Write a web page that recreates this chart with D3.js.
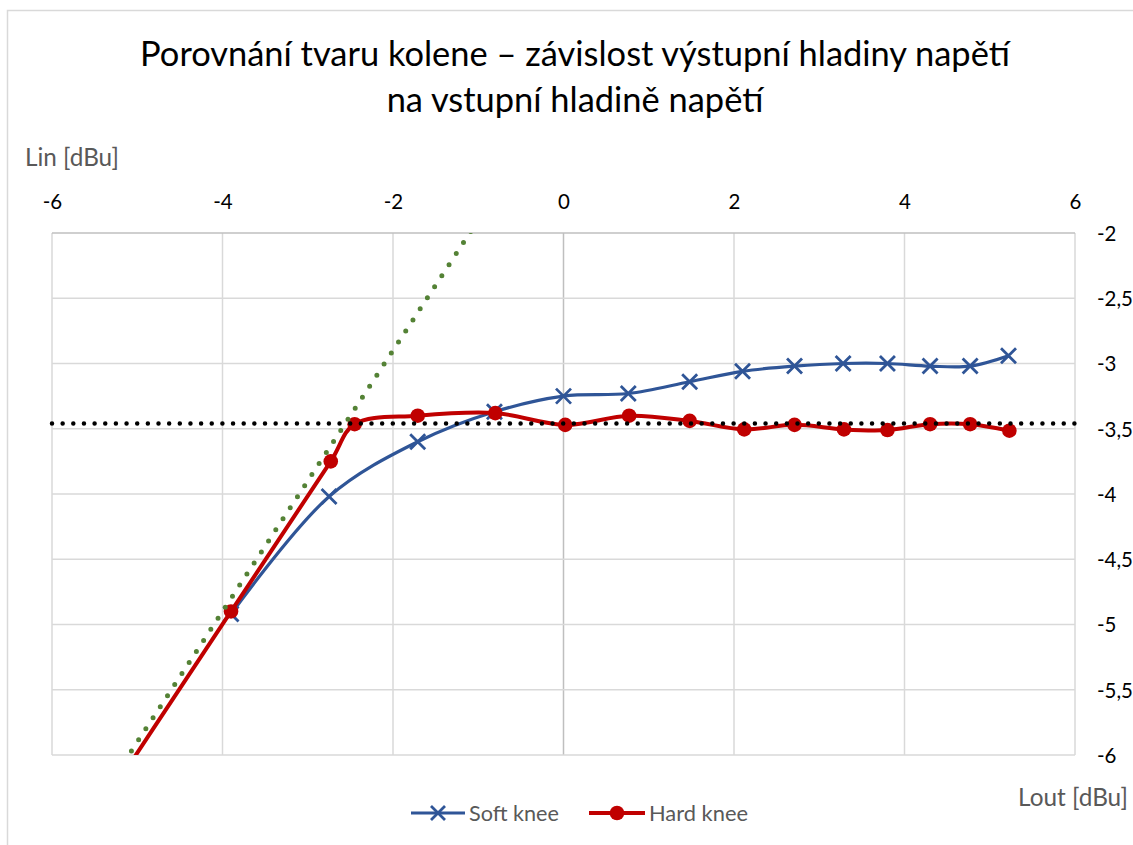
<!DOCTYPE html>
<html><head><meta charset="utf-8">
<script src="https://cdn.jsdelivr.net/npm/d3@7"></script>
<style>
html,body{margin:0;padding:0;background:#fff;overflow:hidden}
text{font-family:Lato,"Open Sans",sans-serif}
</style></head>
<body>
<svg id="chart" width="1133" height="845"></svg>
<script>
// ---- data ----
const titleLines = ["Porovnání tvaru kolene – závislost výstupní hladiny napětí", "na vstupní hladině napětí"];
const xTicks = [-6, -4, -2, 0, 2, 4, 6];
const yTicks = [-2, -2.5, -3, -3.5, -4, -4.5, -5, -5.5, -6];
const yTickLabels = ["-2", "-2,5", "-3", "-3,5", "-4", "-4,5", "-5", "-5,5", "-6"];
const softX = [-3.90, -2.75, -1.71, -0.81, 0.00, 0.76, 1.48, 2.10, 2.71, 3.28, 3.80, 4.30, 4.77, 5.22];
const softY = [-4.92, -4.02, -3.60, -3.37, -3.25, -3.23, -3.14, -3.06, -3.02, -3.00, -3.00, -3.02, -3.02, -2.94];
const hardX = [-6.00, -3.90, -2.73, -2.45, -1.71, -0.80, 0.02, 0.77, 1.48, 2.12, 2.71, 3.29, 3.80, 4.30, 4.77, 5.23];
const hardY = [-6.97, -4.90, -3.75, -3.465, -3.40, -3.38, -3.47, -3.40, -3.44, -3.505, -3.47, -3.505, -3.51, -3.465, -3.465, -3.515];
const slopeX = [-6.0, -1.0];
const slopeY = [-6.9, -1.9];
const thresholdX = [-6, 6];
const thresholdY = [-3.46, -3.46];
const seriesNames = ["Soft knee", "Hard knee"];
const xAxisTitle = "Lin [dBu]";
const yAxisTitle = "Lout [dBu]";

// ---- layout ----
const svg = d3.select("#chart");
const L = 52, R = 1075, T = 233, B = 755;
const x = d3.scaleLinear().domain([-6, 6]).range([L, R]);
const y = d3.scaleLinear().domain([-6, -2]).range([B, T]);

const blue = "#2F5597", red = "#C00000", green = "#548235";

function fitText(sel, targetW, baseSize) {
  sel.attr("font-size", baseSize);
  const w = sel.node().getComputedTextLength();
  const s = baseSize * targetW / w;
  sel.attr("font-size", s);
  return s;
}

// chart border
svg.append("rect").attr("x", 7.5).attr("y", 10.5).attr("width", 1140).attr("height", 860)
  .attr("fill", "#fff").attr("stroke", "#D9D9D9").attr("stroke-width", 1.5);

// title
const t1 = svg.append("text").attr("x", 575).attr("y", 66).attr("text-anchor", "middle").attr("fill", "#000").text(titleLines[0]);
const tSize = fitText(t1, 870, 30);
svg.append("text").attr("x", 575).attr("y", 112).attr("text-anchor", "middle").attr("fill", "#000")
  .attr("font-size", tSize).text(titleLines[1]);

// measure tick font size
const probe = svg.append("text").text("-4,5");
const tickSize = fitText(probe, 36, 20);
probe.remove();

// gridlines
const grid = svg.append("g");
grid.selectAll("line.v").data(xTicks).join("line")
  .attr("x1", d => x(d)).attr("x2", d => x(d)).attr("y1", T).attr("y2", B)
  .attr("stroke", d => d === 0 ? "#BFBFBF" : "#D9D9D9").attr("stroke-width", 1.5);
grid.selectAll("line.h").data(yTicks).join("line")
  .attr("x1", L).attr("x2", R).attr("y1", d => y(d)).attr("y2", d => y(d))
  .attr("stroke", d => d === -2 ? "#BFBFBF" : "#D9D9D9").attr("stroke-width", 1.5);

// axes (labels via d3 axes)
const xAxis = d3.axisTop(x).tickValues(xTicks).tickSize(0).tickPadding(0).tickFormat(d => String(d));
const gx = svg.append("g").attr("transform", `translate(0,${T - 24})`).call(xAxis);
gx.select(".domain").remove();
gx.selectAll("text").attr("font-size", tickSize).attr("fill", "#000").attr("font-family", "Lato").attr("dy", 0);

const yAxis = d3.axisRight(y).tickValues(yTicks).tickSize(0).tickPadding(0).tickFormat((d, i) => yTickLabels[i]);
const gy = svg.append("g").attr("transform", `translate(1097,0)`).call(yAxis);
gy.select(".domain").remove();
gy.selectAll("text").attr("font-size", tickSize).attr("fill", "#000").attr("font-family", "Lato").attr("x", 0).attr("dy", "0.36em");

// axis titles
const at1 = svg.append("text").attr("x", 25).attr("y", 157).attr("dy", "0.36em").attr("fill", "#595959").text(xAxisTitle);
fitText(at1, 94, 20);
const at2 = svg.append("text").attr("x", 1128).attr("y", 797).attr("dy", "0.36em").attr("text-anchor", "end").attr("fill", "#595959").text(yAxisTitle);
fitText(at2, 110, 20);

// clip
svg.append("clipPath").attr("id", "plotclip").append("rect").attr("x", L).attr("y", T).attr("width", R - L).attr("height", B - T);
const plot = svg.append("g").attr("clip-path", "url(#plotclip)");

const smooth = d3.line().x(d => x(d[0])).y(d => y(d[1])).curve(d3.curveCatmullRom.alpha(0.5));
const straight = d3.line().x(d => x(d[0])).y(d => y(d[1]));

const softPts = softX.map((v, i) => [v, softY[i]]);
const hardPts = hardX.map((v, i) => [v, hardY[i]]);
const slopePts = slopeX.map((v, i) => [v, slopeY[i]]);
const thrPts = thresholdX.map((v, i) => [v, thresholdY[i]]);

// soft knee
plot.append("path").attr("d", smooth(softPts)).attr("fill", "none").attr("stroke", blue).attr("stroke-width", 3.2);
const xs = 7.5;
const softM = plot.append("g");
softPts.forEach(p => {
  const cx = x(p[0]), cy = y(p[1]);
  softM.append("path").attr("d", `M${cx - xs},${cy - xs}L${cx + xs},${cy + xs}M${cx - xs},${cy + xs}L${cx + xs},${cy - xs}`)
    .attr("stroke", blue).attr("stroke-width", 2.8).attr("fill", "none");
});

// hard knee
plot.append("path").attr("d", smooth(hardPts)).attr("fill", "none").attr("stroke", red).attr("stroke-width", 4);
plot.append("g").selectAll("circle").data(hardPts).join("circle")
  .attr("cx", d => x(d[0])).attr("cy", d => y(d[1])).attr("r", 7.3).attr("fill", red);

// slope (green dotted)
plot.append("path").attr("d", straight(slopePts)).attr("fill", "none").attr("stroke", green)
  .attr("stroke-width", 5).attr("stroke-linecap", "round").attr("stroke-dasharray", "0,13.2");

// threshold (black dotted)
svg.append("path").attr("d", straight(thrPts)).attr("fill", "none").attr("stroke", "#000")
  .attr("stroke-width", 4.5).attr("stroke-linecap", "round").attr("stroke-dasharray", "0,10.65");

// legend
const lg = svg.append("g");
const ly = 813;
lg.append("line").attr("x1", 411).attr("x2", 465).attr("y1", ly).attr("y2", ly).attr("stroke", blue).attr("stroke-width", 3.2);
lg.append("path").attr("d", `M${438 - 7},${ly - 7}L${438 + 7},${ly + 7}M${438 - 7},${ly + 7}L${438 + 7},${ly - 7}`)
  .attr("stroke", blue).attr("stroke-width", 2.8);
const lt1 = lg.append("text").attr("x", 469).attr("y", ly).attr("dy", "0.36em").attr("fill", "#595959").text(seriesNames[0]);
fitText(lt1, 90, 18);
lg.append("line").attr("x1", 589).attr("x2", 645).attr("y1", ly).attr("y2", ly).attr("stroke", red).attr("stroke-width", 4);
lg.append("circle").attr("cx", 617).attr("cy", ly).attr("r", 7.3).attr("fill", red);
const lt2 = lg.append("text").attr("x", 649).attr("y", ly).attr("dy", "0.36em").attr("fill", "#595959").text(seriesNames[1]);
fitText(lt2, 99, 18);
</script>
</body></html>
